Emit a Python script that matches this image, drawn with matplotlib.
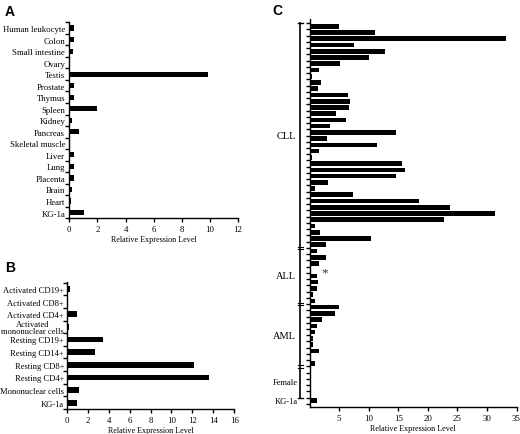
import numpy as np
import matplotlib
matplotlib.use("Agg")
import matplotlib.pyplot as plt
import matplotlib.transforms as mtransforms

plt.rcParams['font.family'] = ['Liberation Serif', 'DejaVu Serif']

# panel A: normal tissues
tissue_labels = ['Human leukocyte', 'Colon', 'Small intestine', 'Ovary', 'Testis',
                 'Prostate', 'Thymus', 'Spleen', 'Kidney', 'Pancreas',
                 'Skeletal muscle', 'Liver', 'Lung', 'Placenta', 'Brain', 'Heart', 'KG-1a']
tissue_values = [0.33, 0.35, 0.24, 0.03, 9.89, 0.36, 0.33, 1.95, 0.2, 0.66,
                 0.02, 0.33, 0.36, 0.36, 0.18, 0.14, 1.02]
tissue_ticks = [0, 2, 4, 6, 8, 10, 12]

# panel B: blood cell subsets
cell_labels = ['Activated CD19+', 'Activated CD8+', 'Activated CD4+',
               'Activated\nmononuclear cells', 'Resting CD19+', 'Resting CD14+',
               'Resting CD8+', 'Resting CD4+', 'Mononuclear cells', 'KG-1a']
cell_values = [0.32, 0.1, 0.95, 0.25, 3.46, 2.73, 12.2, 13.55, 1.15, 1.0]
cell_ticks = [0, 2, 4, 6, 8, 10, 12, 14, 16]

# panel C: patient samples
cll_values = [5.0, 11.0, 33.2, 7.5, 12.8, 10.1, 5.2, 1.55, 0.4, 1.95, 1.45, 6.5,
              6.9, 6.6, 4.4, 6.1, 3.5, 14.7, 3.0, 11.4, 1.55, 0.4, 15.7, 16.2,
              14.7, 3.2, 0.9, 7.4, 18.5, 23.7, 31.4, 22.7, 1.0, 1.7, 10.4, 2.8]
all_values = [1.2, 2.8, 1.55, 0.0, 1.2, 1.5, 1.3, 0.6, 1.0]
aml_values = [5.0, 4.3, 2.05, 1.3, 0.9, 0.65, 0.55, 1.55, 0.2, 0.9]
female_values = [0.0, 0.0, 0.0, 0.0, 0.0]
kg1a_value = [1.2]
patient_ticks = [5, 10, 15, 20, 25, 30, 35]

W, H = 520, 435
fig = plt.figure(figsize=(W / 100, H / 100), dpi=100)


def px_axes(left, top, right, bottom):
    return fig.add_axes([left / W, 1 - bottom / H, (right - left) / W, (bottom - top) / H])


def style(ax, n, ticks, fs=6.3, ypad=3):
    for s in ['top', 'right']:
        ax.spines[s].set_visible(False)
    for s in ['left', 'bottom']:
        ax.spines[s].set_linewidth(1.0)
    ax.set_xticks(ticks)
    ax.tick_params(axis='x', length=3, width=1.0, labelsize=6.3, pad=2)
    ax.tick_params(axis='y', which='major', length=0, labelsize=fs, pad=ypad)
    ax.set_yticks(np.arange(n + 1) - 0.5, minor=True)
    ax.tick_params(axis='y', which='minor', length=3, width=1.0)
    ax.set_xlabel('Relative Expression Level', fontsize=5.9, labelpad=1.5)


# A
axA = px_axes(69.3, 23.3, 238, 219.3)
yA = np.arange(len(tissue_values))
axA.barh(yA, tissue_values, height=0.45, color='black')
axA.set_yticks(yA)
axA.set_yticklabels(tissue_labels)
axA.set_xlim(0, 12)
axA.set_ylim(16.43, -0.5)
style(axA, len(tissue_values), tissue_ticks)

# B
axB = px_axes(66.7, 283, 234.3, 410)
yB = np.arange(len(cell_values))
axB.barh(yB, cell_values, height=0.45, color='black')
axB.set_yticks(yB)
axB.set_yticklabels(cell_labels, linespacing=0.8)
for t in axB.get_yticklabels():
    t.set_multialignment('center')
axB.set_xlim(0, 16)
axB.set_ylim(9.47, -0.55)
style(axB, len(cell_values), cell_ticks, fs=6.1, ypad=2)

# C
groups = [('CLL', cll_values), ('ALL', all_values), ('AML', aml_values),
          ('Female', female_values), ('KG-1a', kg1a_value)]
c_values = cll_values + all_values + aml_values + female_values + kg1a_value
yC = np.arange(len(c_values))
axC = px_axes(309.5, 20, 516.5, 408)
axC.barh(yC, c_values, height=0.74, color='black')
axC.set_xlim(0, 35)
axC.set_ylim(len(c_values), -1.17)
axC.set_yticks([])
style(axC, len(c_values), patient_ticks)
axC.text(2.6, 39.5, '*', fontsize=9.5, color='#333333', ha='center', va='center')

trans = mtransforms.blended_transform_factory(axC.transAxes, axC.transData)
bx = -0.0435
start = -0.5
bounds = []
for name, vals in groups:
    end = start + len(vals)
    bounds.append((name, start, end))
    start = end
# bracket from top of CLL to bottom of Female
top_b = bounds[0][1]
bot_b = bounds[3][2]
axC.plot([bx, bx], [top_b, bot_b], color='black', lw=1.2, transform=trans, clip_on=False)
for yb in (top_b, bot_b):
    axC.plot([bx - 0.01, bx + 0.01], [yb, yb], color='black', lw=1.0,
             transform=trans, clip_on=False)
for name, s, e in bounds[:3]:
    for dy in (-0.2, 0.2):
        axC.plot([bx - 0.013, bx + 0.013], [e + dy, e + dy], color='black', lw=0.8,
                 transform=trans, clip_on=False)
for name, s, e in bounds:
    if name in ('CLL', 'ALL', 'AML'):
        axC.text(-0.065, (s + e) / 2, name, fontsize=7.5, ha='right', va='center',
                 transform=trans)
    else:
        axC.text(-0.056, (s + e) / 2, name, fontsize=6.1, ha='right', va='center',
                 transform=trans)

# panel letters
for lab, x, y in [('A', 5, 5), ('B', 5, 261), ('C', 272, 4)]:
    fig.text(x / W, 1 - y / H, lab, fontsize=10, fontweight='bold',
             family=['Liberation Sans', 'DejaVu Sans'], ha='left', va='top')

fig.savefig('out.png', dpi=100)
